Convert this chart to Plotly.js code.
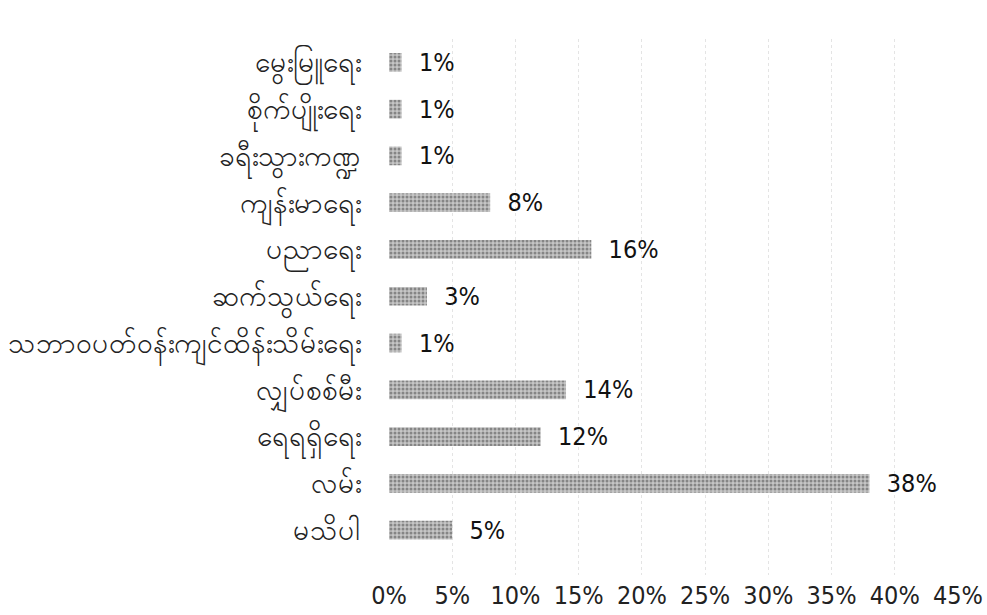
<!DOCTYPE html>
<html>
<head>
<meta charset="utf-8">
<script src="https://cdn.plot.ly/plotly-3.0.1.min.js"></script>
<style>html,body{margin:0;padding:0;background:#fff;}#chart{width:987px;height:615px;}</style>
</head>
<body>
<div id="chart"></div>
<script>
const categories = [
  "မွေးမြူရေး",
  "စိုက်ပျိုးရေး",
  "ခရီးသွားကဏ္ဍ",
  "ကျန်းမာရေး",
  "ပညာရေး",
  "ဆက်သွယ်ရေး",
  "သဘာဝပတ်ဝန်းကျင်ထိန်းသိမ်းရေး",
  "လျှပ်စစ်မီး",
  "ရေရရှိရေး",
  "လမ်း",
  "မသိပါ"
];
const values = [0.01, 0.01, 0.01, 0.08, 0.16, 0.03, 0.01, 0.14, 0.12, 0.38, 0.05];
const tickVals = [0, 0.05, 0.10, 0.15, 0.20, 0.25, 0.30, 0.35, 0.40, 0.45];
const tickText = ["0%", "5%", "10%", "15%", "20%", "25%", "30%", "35%", "40%", "45%"];

const numFont = "DejaVu Sans Condensed, DejaVu Sans, sans-serif";
const catFont = "DejaVu Sans, Noto Sans, sans-serif";

Plotly.newPlot("chart", [{
  type: "bar",
  orientation: "h",
  y: categories,
  x: values,
  marker: {color: "#adadad", pattern: {shape: ".", fgcolor: "#858585", bgcolor: "#c6c6c6", size: 4, solidity: 0.45}},
  texttemplate: "  %{x:.0%}",
  textposition: "outside",
  constraintext: "none",
  cliponaxis: false,
  textfont: {family: numFont, size: 25, color: "#111"},
  hoverinfo: "none"
}], {
  width: 987, height: 615,
  margin: {l: 389, r: 29, t: 39, b: 40},
  paper_bgcolor: "#fff", plot_bgcolor: "#fff",
  showlegend: false,
  bargap: 0.6,
  xaxis: {
    range: [0, 0.45],
    tickvals: tickVals, ticktext: tickText,
    showgrid: true, gridcolor: "#e4e4e4", griddash: "dot", gridwidth: 1,
    zeroline: false, showline: false,
    ticks: "", ticklabelstandoff: 3,
    tickfont: {family: numFont, size: 25, color: "#222"}
  },
  yaxis: {
    type: "category",
    categoryorder: "array", categoryarray: categories,
    range: [10.96, -0.5],
    showgrid: false, zeroline: false, showline: false,
    ticks: "outside", ticklen: 21, tickcolor: "rgba(0,0,0,0)",
    tickfont: {family: catFont, size: 28, color: "#222"}
  }
}, {staticPlot: true});
</script>
</body>
</html>
